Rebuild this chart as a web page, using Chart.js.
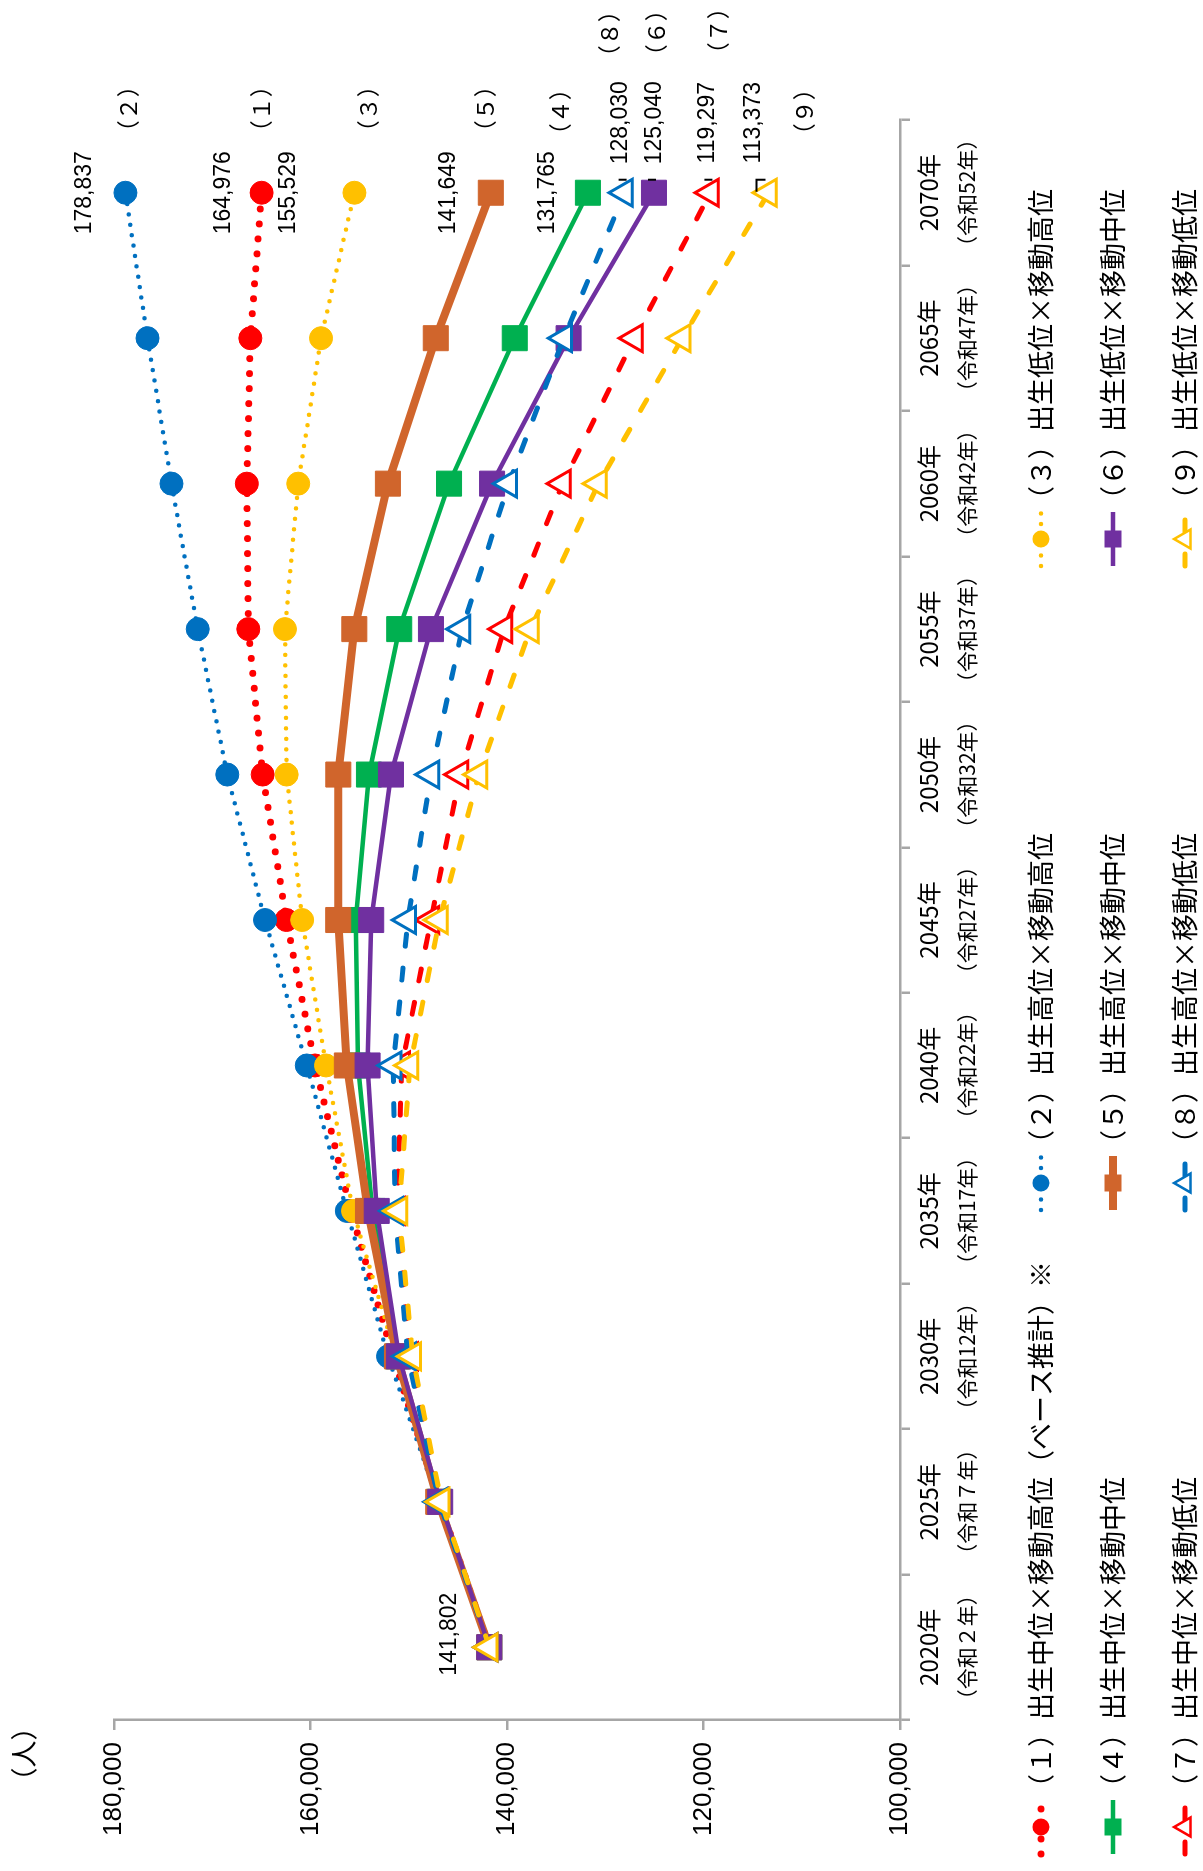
<!DOCTYPE html>
<html>
<head>
<meta charset="utf-8">
<script src="https://cdn.jsdelivr.net/npm/chart.js@4.4.1/dist/chart.umd.min.js"></script>
<style>
  html, body { margin: 0; padding: 0; background: #fff; overflow: hidden; }
  #wrap { position: absolute; left: 0; top: 0; width: 1871px; height: 1203px;
          transform-origin: 0 0; transform: translateY(1871px) rotate(-90deg); background: #fff; }
</style>
</head>
<body>
<div id="wrap"><canvas id="c" width="1871" height="1203"></canvas></div>
<script>
// ---- data ----
const years = ["2020年","2025年","2030年","2035年","2040年","2045年","2050年","2055年","2060年","2065年","2070年"];
const eraLabels = ["（令和２年）","（令和７年）","（令和12年）","（令和17年）","（令和22年）","（令和27年）","（令和32年）","（令和37年）","（令和42年）","（令和47年）","（令和52年）"];
const yTicks = [100000, 120000, 140000, 160000, 180000];
const seriesNames = [
  "（１）出生中位×移動高位（ベース推計）※",
  "（２）出生高位×移動高位",
  "（３）出生低位×移動高位",
  "（４）出生中位×移動中位",
  "（５）出生高位×移動中位",
  "（６）出生低位×移動中位",
  "（７）出生中位×移動低位",
  "（８）出生高位×移動低位",
  "（９）出生低位×移動低位"
];
const seriesNums = ["（１）","（２）","（３）","（４）","（５）","（６）","（７）","（８）","（９）"];
const s1 = [141802, 146900, 151600, 155900, 159540, 162450, 164870, 166330, 166480, 166120, 164976];
const s2 = [141802, 147000, 152110, 156300, 160380, 164630, 168470, 171480, 174150, 176590, 178837];
const s3 = [141802, 146800, 151300, 155670, 158420, 160850, 162430, 162600, 161250, 158930, 155529];
const s4 = [141802, 146900, 151100, 153700, 155170, 155400, 154050, 150970, 145900, 139210, 131765];
const s5 = [141802, 147000, 151200, 154150, 156300, 157180, 157170, 155540, 152120, 147250, 141649];
const s6 = [141802, 146800, 151000, 153260, 154190, 153820, 151810, 147740, 141520, 133730, 125040];
const s7 = [141802, 146800, 149900, 151200, 150700, 147730, 144780, 140300, 134340, 127030, 119297];
const s8 = [141802, 146900, 150100, 151400, 151570, 150090, 147740, 144570, 139820, 134220, 128030];
const s9 = [141802, 146700, 149600, 151000, 149870, 146870, 142860, 137620, 130690, 122160, 113373];
const seriesData = [s1, s2, s3, s4, s5, s6, s7, s8, s9];

// ---- styles ----
const RED = '#FF0000', BLUE = '#0070C0', YEL = '#FFC000', GRN = '#00B050', ORG = '#D0652C', PUR = '#7030A0';
const styles = [
  {c: RED, w: 7,   dash: [0, 15],   cap: 'round', ps: 'circle',   r: 11.5, fill: RED},
  {c: BLUE, w: 4.5, dash: [0, 10.5], cap: 'round', ps: 'circle',   r: 11.5, fill: BLUE},
  {c: YEL, w: 4.5, dash: [0, 10.5], cap: 'round', ps: 'circle',   r: 11.5, fill: YEL},
  {c: GRN, w: 4.5, dash: [],        cap: 'butt',  ps: 'rect',     r: 17.7, fill: GRN},
  {c: ORG, w: 8,   dash: [],        cap: 'butt',  ps: 'rect',     r: 17.7, fill: ORG},
  {c: PUR, w: 4.5, dash: [],        cap: 'butt',  ps: 'rect',     r: 17.7, fill: PUR},
  {c: RED, w: 5,   dash: [12, 22],  cap: 'round', ps: 'triangle', r: 15.5, fill: '#FFFFFF', bw: 3},
  {c: BLUE, w: 5,  dash: [12, 22],  cap: 'round', ps: 'triangle', r: 15.5, fill: '#FFFFFF', bw: 3},
  {c: YEL, w: 5,   dash: [12, 22],  cap: 'round', ps: 'triangle', r: 15.5, fill: '#FFFFFF', bw: 3}
];
// end-label offsets (value label, number label) relative to the last point
const endOffsets = [
  {v: [0, -38], n: [84, 0]},
  {v: [0, -41], n: [84, 3]},
  {v: [0, -66], n: [84, 14]},
  {v: [0, -40], n: [81, -28]},
  {v: [0, -42], n: [84, -6]},
  {v: [70, 1],  n: [160, 2],   lead: 1},
  {v: [70, -3], n: [162, 8],   lead: 1},
  {v: [70, -4], n: [159, -15], lead: 1},
  {v: [70, -15], n: [81, 36],  lead: 2}
];

const CJK = '"Noto Sans CJK JP", "Noto Sans CJK SC", sans-serif';
const LAT = '"Liberation Sans", Arial, sans-serif';
const fmt = v => v.toLocaleString('en-US');

const datasets = seriesData.map((d, i) => {
  const s = styles[i];
  return {
    label: seriesNames[i],
    data: d,
    borderColor: s.c,
    backgroundColor: s.fill,
    borderWidth: s.w,
    borderDash: s.dash,
    borderCapStyle: s.cap,
    borderJoinStyle: 'round',
    pointStyle: s.ps,
    pointRadius: s.r,
    pointHoverRadius: s.r,
    pointBackgroundColor: s.fill,
    pointBorderColor: s.c,
    pointBorderWidth: s.bw || 1,
    tension: 0,
    fill: false,
    order: 9 - i,
    clip: false
  };
});

function drawMarker(ctx, style, x, y, r, fill, stroke, bw) {
  ctx.save();
  ctx.setLineDash([]);
  ctx.beginPath();
  if (style === 'circle') ctx.arc(x, y, r, 0, Math.PI * 2);
  else if (style === 'rect') ctx.rect(x - r, y - r, 2 * r, 2 * r);
  else { ctx.moveTo(x, y - r); ctx.lineTo(x + r * 0.866, y + r * 0.5); ctx.lineTo(x - r * 0.866, y + r * 0.5); ctx.closePath(); }
  ctx.fillStyle = fill; ctx.fill();
  if (bw) { ctx.lineWidth = bw; ctx.strokeStyle = stroke; ctx.stroke(); }
  ctx.restore();
}

const overlay = {
  id: 'overlay',
  afterDraw(chart) {
    const ctx = chart.ctx;
    const xs = chart.scales.x;
    const area = chart.chartArea;
    ctx.save();
    ctx.fillStyle = '#000';
    ctx.textAlign = 'center';
    ctx.textBaseline = 'middle';
    // category labels (two lines)
    years.forEach((y, i) => {
      const px = xs.getPixelForValue(i);
      ctx.font = '24px ' + CJK;
      ctx.fillText(y, px, area.bottom + 29);
      ctx.font = '21px ' + CJK;
      ctx.fillText(eraLabels[i], px, area.bottom + 67);
    });
    // unit label
    ctx.font = '27px ' + CJK;
    ctx.fillText('（人）', 117, 24);

    // end labels
    chart.data.datasets.forEach((ds, i) => {
      const meta = chart.getDatasetMeta(i);
      const pt = meta.data[meta.data.length - 1];
      const o = endOffsets[i];
      ctx.fillStyle = '#000';
      ctx.font = '23px ' + LAT;
      ctx.textAlign = 'center';
      ctx.fillText(fmt(ds.data[ds.data.length - 1]), pt.x + o.v[0], pt.y + o.v[1]);
      ctx.font = '23px ' + CJK;
      ctx.fillText(seriesNums[i], pt.x + o.n[0], pt.y + o.n[1]);
      if (o.lead) {
        ctx.strokeStyle = '#000';
        ctx.lineWidth = 2;
        ctx.setLineDash([]);
        ctx.beginPath();
        if (o.lead === 1) {
          ctx.moveTo(pt.x + 13, pt.y - 6); ctx.lineTo(pt.x + 13, pt.y + 2);
        } else {
          ctx.moveTo(pt.x + 1, pt.y - 12); ctx.lineTo(pt.x + 13, pt.y - 12); ctx.lineTo(pt.x + 13, pt.y - 3);
        }
        ctx.stroke();
      }
    });
    // first point label
    {
      const pt = chart.getDatasetMeta(0).data[0];
      ctx.font = '23px ' + LAT;
      ctx.textAlign = 'center';
      ctx.fillText(fmt(seriesData[0][0]), pt.x + 13, pt.y - 40);
    }

    // legend
    const colX = [44, 688, 1332];
    const rowY = [1041, 1113, 1185];
    chart.data.datasets.forEach((ds, i) => {
      const s = styles[i];
      const cx = colX[i % 3], cy = rowY[Math.floor(i / 3)];
      ctx.save();
      ctx.strokeStyle = s.c;
      ctx.lineWidth = s.w;
      ctx.lineCap = s.cap;
      ctx.setLineDash(s.dash);
      ctx.beginPath();
      ctx.moveTo(cx - 27, cy); ctx.lineTo(cx + 27, cy);
      ctx.stroke();
      ctx.restore();
      const mr = s.ps === 'circle' ? 8.5 : (s.ps === 'rect' ? 8.5 : 11);
      drawMarker(ctx, s.ps, cx, cy, mr, s.fill, s.c, s.bw ? 2.5 : 0);
      ctx.fillStyle = '#000';
      ctx.font = '27px ' + CJK;
      ctx.textAlign = 'left';
      ctx.textBaseline = 'middle';
      ctx.fillText(seriesNames[i], cx + 26, cy);
    });
    ctx.restore();
  }
};

new Chart(document.getElementById('c'), {
  type: 'line',
  data: { labels: years, datasets },
  options: {
    responsive: false,
    animation: false,
    devicePixelRatio: 1,
    layout: { padding: { left: 0, right: 120, top: 114, bottom: 203 } },
    plugins: { legend: { display: false }, tooltip: { enabled: false } },
    scales: {
      x: {
        type: 'category',
        offset: true,
        grid: { offset: true, drawOnChartArea: false, drawTicks: true, tickLength: 10, color: '#A6A6A6', lineWidth: 2.5 },
        border: { display: true, color: '#A6A6A6', width: 2.5 },
        ticks: { display: false },
        afterFit: s => { s.height = 100; }
      },
      y: {
        type: 'linear',
        min: 100000,
        max: 180000,
        afterBuildTicks: s => { s.ticks = yTicks.map(v => ({ value: v })); },
        grid: { drawOnChartArea: false, drawTicks: true, tickLength: 10, color: '#A6A6A6', lineWidth: 2.5 },
        border: { display: true, color: '#A6A6A6', width: 2.5 },
        ticks: { color: '#000', padding: 12, font: { family: LAT, size: 26 }, callback: v => fmt(v) },
        afterFit: s => { s.width = 151; }
      }
    }
  },
  plugins: [overlay]
});
</script>
</body>
</html>
